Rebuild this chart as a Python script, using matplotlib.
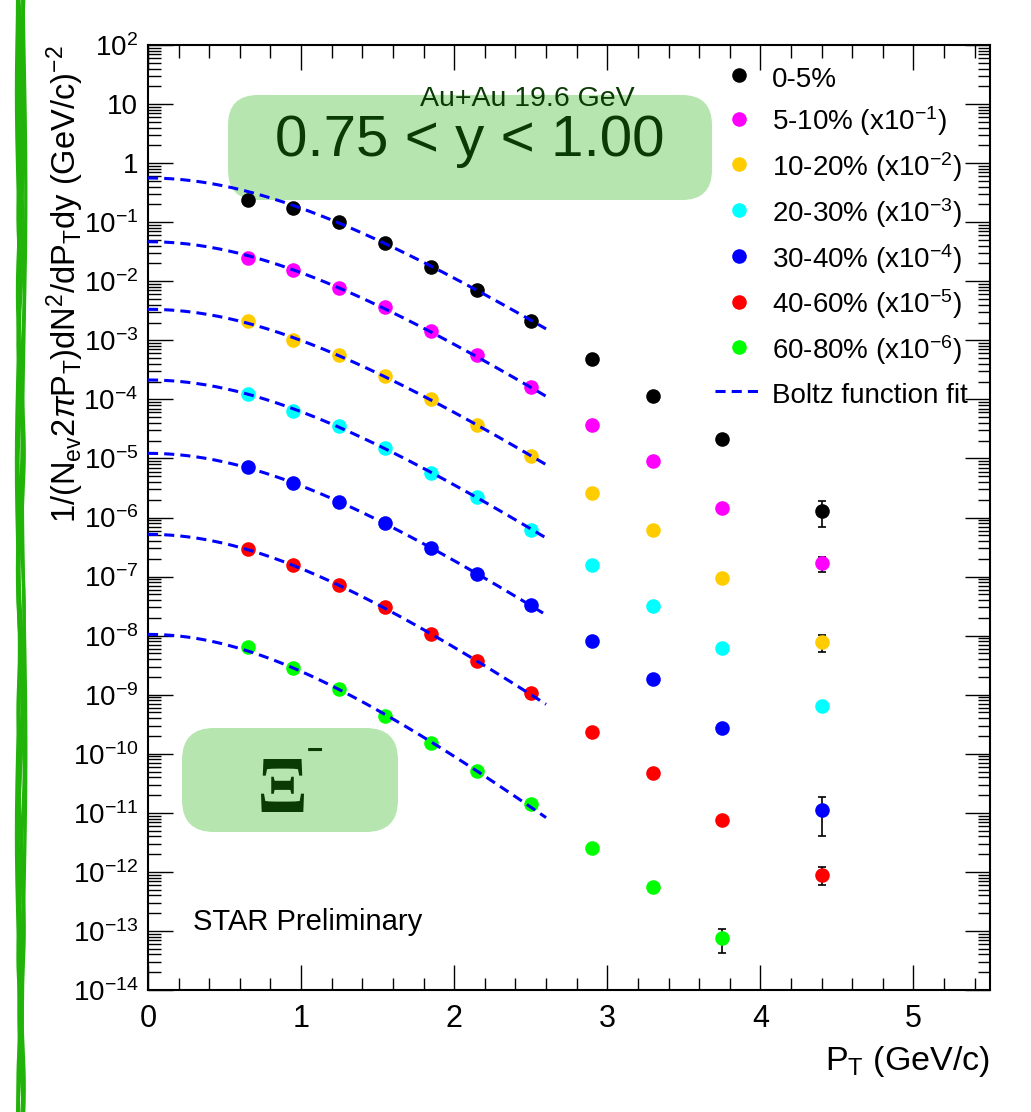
#!/usr/bin/env python3
import numpy as np
import matplotlib
matplotlib.use('Agg')
import matplotlib.pyplot as plt
from matplotlib.lines import Line2D
from matplotlib.patches import FancyBboxPatch, PathPatch
from matplotlib.textpath import TextPath
from matplotlib.font_manager import FontProperties
from matplotlib.transforms import Affine2D
from matplotlib.ticker import MultipleLocator, LogLocator, FuncFormatter, NullFormatter

plt.rcParams['font.family'] = ['Liberation Sans', 'DejaVu Sans']
plt.rcParams['mathtext.fontset'] = 'custom'
plt.rcParams['mathtext.rm'] = 'Liberation Sans'
plt.rcParams['mathtext.it'] = 'Liberation Sans:italic'
plt.rcParams['mathtext.bf'] = 'Liberation Sans:bold'

W, H = 1031, 1112

# Xi- spectra, Au+Au 19.6 GeV, 0.75 < y < 1.00 (unscaled)
pt = [0.65, 0.95, 1.25, 1.55, 1.85, 2.15, 2.5, 2.9, 3.3, 3.75, 4.4]
labels = ['0-5%', '5-10%', '10-20%', '20-30%', '30-40%', '40-60%', '60-80%']
colors = ['#000000', '#ff00ff', '#ffcc00', '#00ffff', '#0000ff', '#ff0000', '#00ff00']
scale_exp = [0, -1, -2, -3, -4, -5, -6]

y_0_5 = [0.238, 0.174, 0.101, 0.0444, 0.0174, 0.0071, 0.00212, 4.8e-4, 1.14e-4, 2.13e-5, 1.3e-6]
y_5_10 = [0.247, 0.155, 0.077, 0.0366, 0.0144, 0.0056, 0.00162, 3.7e-4, 9.0e-5, 1.45e-5, 1.67e-6]
y_10_20 = [0.21, 0.101, 0.056, 0.025, 0.0101, 0.0037, 0.0011, 2.6e-4, 6.1e-5, 9.4e-6, 7.8e-7]
y_20_30 = [0.123, 0.064, 0.035, 0.015, 0.0057, 0.0022, 6.1e-4, 1.57e-4, 3.2e-5, 6.2e-6, 6.4e-7]
y_30_40 = [0.072, 0.038, 0.0183, 0.0081, 0.0030, 0.0011, 3.3e-4, 8.1e-5, 1.84e-5, 2.7e-6, 1.11e-7]
y_40_60 = [0.029, 0.0157, 0.0072, 0.00305, 0.00106, 3.7e-4, 1.07e-4, 2.3e-5, 4.7e-6, 7.5e-7, 9.0e-8]
y_60_80 = [0.0064, 0.0028, 0.00125, 4.35e-4, 1.52e-4, 5.1e-5, 1.41e-5, 2.5e-6, 5.5e-7, 7.5e-8]

e_0_5 = [0, 0, 0, 0, 0, 0, 0, 0, 0, 0, 6.0e-7]
e_5_10 = [0, 0, 0, 0, 0, 0, 0, 0, 0, 0, 4.6e-7]
e_10_20 = [0, 0, 0, 0, 0, 0, 0, 0, 0, 0, 2.5e-7]
e_20_30 = [0, 0, 0, 0, 0, 0, 0, 0, 0, 0, 0]
e_30_40 = [0, 0, 0, 0, 0, 0, 0, 0, 0, 0, 7.1e-8]
e_40_60 = [0, 0, 0, 0, 0, 0, 0, 0, 0, 0, 2.9e-8]
e_60_80 = [0, 0, 0, 0, 0, 0, 0, 0, 0, 3.2e-8]

# Boltzmann fit parameters: yield at pT = 0 (unscaled) and temperature (GeV)
fit_norm = [0.56, 0.467, 0.335, 0.213, 0.122, 0.0519, 0.0105]
fit_temp = [0.239, 0.234, 0.233, 0.2295, 0.225, 0.215, 0.201]
fit_max = 2.6
m_xi = 1.3217

spectra = [y_0_5, y_5_10, y_10_20, y_20_30, y_30_40, y_40_60, y_60_80]
errors = [e_0_5, e_5_10, e_10_20, e_20_30, e_30_40, e_40_60, e_60_80]


def boltz(x, norm, temp):
    mt = np.sqrt(x**2 + m_xi**2)
    return norm * mt / m_xi * np.exp(-(mt - m_xi) / temp)


def px_box(x0, y0, x1, y1, r):
    # rounded box given in figure pixels (origin top-left)
    box = FancyBboxPatch((x0 / W, 1 - y1 / H), (x1 - x0) / W, (y1 - y0) / H,
                         boxstyle='round,pad=0,rounding_size=%f' % (r / W),
                         mutation_aspect=W / H, transform=fig.transFigure,
                         facecolor='#b6e5b0', edgecolor='none', zorder=0)
    fig.add_artist(box)


def px_glyph(s, x0, y0, x1, y1, color, **font):
    # glyph stretched to fill a pixel box (origin top-left)
    tp = TextPath((0, 0), s, size=100, prop=FontProperties(**font))
    ext = tp.get_extents()
    fx0, fx1 = x0 / W, x1 / W
    fy0, fy1 = 1 - y1 / H, 1 - y0 / H
    tr = (Affine2D().translate(-ext.x0, -ext.y0)
          .scale((fx1 - fx0) / ext.width, (fy1 - fy0) / ext.height)
          .translate(fx0, fy0) + fig.transFigure)
    fig.add_artist(PathPatch(tp, transform=tr, facecolor=color, edgecolor='none'))


fig = plt.figure(figsize=(W / 100, H / 100), dpi=100)
ax = fig.add_axes([148 / W, 1 - 990 / H, 842 / W, 945 / H])
ax.set_zorder(1)
ax.patch.set_visible(False)

px_box(228, 95, 712, 200, 30)
px_box(182, 728, 398, 832, 32)

fit_x = np.linspace(0, fit_max, 200)
dash = (3.3, 2.0)
for ys, es, c, k, a, t in zip(spectra, errors, colors, scale_exp, fit_norm, fit_temp):
    f = 10.0**k
    x = np.array(pt[:len(ys)])
    y = np.array(ys) * f
    e = np.array(es) * f
    m = e > 0
    if m.any():
        ax.errorbar(x[m], y[m], yerr=e[m], fmt='none', ecolor='black',
                    elinewidth=1.2, capsize=2.6, capthick=1.2, zorder=2)
    ax.plot(x, y, 'o', color=c, markersize=10.5, markeredgewidth=0, zorder=3)
    ax.plot(fit_x, boltz(fit_x, a, t) * f, color='#0000ff', lw=2.2,
            dashes=dash, zorder=4)

ax.set_yscale('log')
ax.set_xlim(0, 5.5)
ax.set_ylim(1e-14, 1e2)

ax.xaxis.set_major_locator(MultipleLocator(1))
ax.xaxis.set_minor_locator(MultipleLocator(0.2))
ax.yaxis.set_major_locator(LogLocator(base=10, numticks=50))
ax.yaxis.set_minor_locator(LogLocator(base=10, subs=np.arange(2, 10), numticks=50))
ax.yaxis.set_minor_formatter(NullFormatter())


def ylab(v, pos):
    k = int(round(np.log10(v)))
    if k == 0:
        return '1'
    if k == 1:
        return '10'
    return r'$10^{%d}$' % k


ax.yaxis.set_major_formatter(FuncFormatter(ylab))
ax.tick_params(which='both', direction='in', top=True, right=True, width=1.0)
ax.tick_params(which='major', length=18)
ax.tick_params(which='minor', length=9)
ax.tick_params(axis='x', labelsize=22, pad=10)
ax.tick_params(axis='y', labelsize=20, pad=7)
for s in ax.spines.values():
    s.set_linewidth(1.5)

# axis titles, ROOT style: aligned with the ends of the axes
fig.text(990 / W, 1 - 1070 / H, r'P$_{\rm T}$ (GeV/c)', fontsize=24.5,
         ha='right', va='baseline')
fig.text(76 / W, 1 - 45 / H,
         r'1/(N$_{\rm ev}$2$\pi$P$_{\rm T}$)dN$^{2}$/dP$_{\rm T}$dy (GeV/c)$^{-2}$',
         fontsize=23.5, rotation=90, rotation_mode='anchor', ha='right', va='baseline')

dark = '#0b3b05'
fig.text(470 / W, 1 - 141 / H, '0.75 < y < 1.00', fontsize=42, color=dark,
         ha='center', va='center')
fig.text(527 / W, 1 - 99 / H, 'Au+Au 19.6 GeV', fontsize=20.5, color=dark,
         ha='center', va='center')
px_glyph('\u039e', 261, 759, 304, 812, dark, family='Liberation Serif', weight='bold')
fig.text(315 / W, 1 - 752 / H, '\u2212', weight='bold', fontsize=20, color=dark,
         ha='center', va='center')
fig.text(193 / W, 1 - 922 / H, 'STAR Preliminary', fontsize=21,
         ha='left', va='center')

# legend
handles = []
leg_labels = []
for lab, c, k in zip(labels, colors, scale_exp):
    handles.append(Line2D([], [], ls='none', marker='o', color=c,
                          markersize=10.5, markeredgewidth=0))
    leg_labels.append(lab if k == 0 else lab + r' (x10$^{%d}$)' % k)
handles.append(Line2D([], [], color='#0000ff', lw=2.2, dashes=dash))
leg_labels.append('Boltz function fit')
ax.legend(handles, leg_labels, loc='upper left', bbox_to_anchor=(715 / W, 1 - 63 / H),
          bbox_transform=fig.transFigure, frameon=False, fontsize=20,
          borderpad=0, borderaxespad=0, handlelength=1.7, handletextpad=0.36,
          handleheight=1.2, labelspacing=0.43, numpoints=1)

# hand-drawn green stroke along the left edge
yy = np.linspace(0, 1, 300)
for x0, amp, freq, ph in [(18, 1.5, 3.0, 0.0), (21, 2.0, 5.0, 0.3), (24, 1.8, 2.0, 0.6),
                          (20, 2.5, 4.0, 0.8), (23, 1.2, 7.0, 0.1), (19, 1.0, 9.0, 0.5)]:
    xx = (x0 + amp * np.sin(2 * np.pi * (freq * yy + ph))) / W
    fig.add_artist(Line2D(xx, yy, color='#22b30a', lw=2.4, transform=fig.transFigure))

fig.savefig('out.png', dpi=100)
